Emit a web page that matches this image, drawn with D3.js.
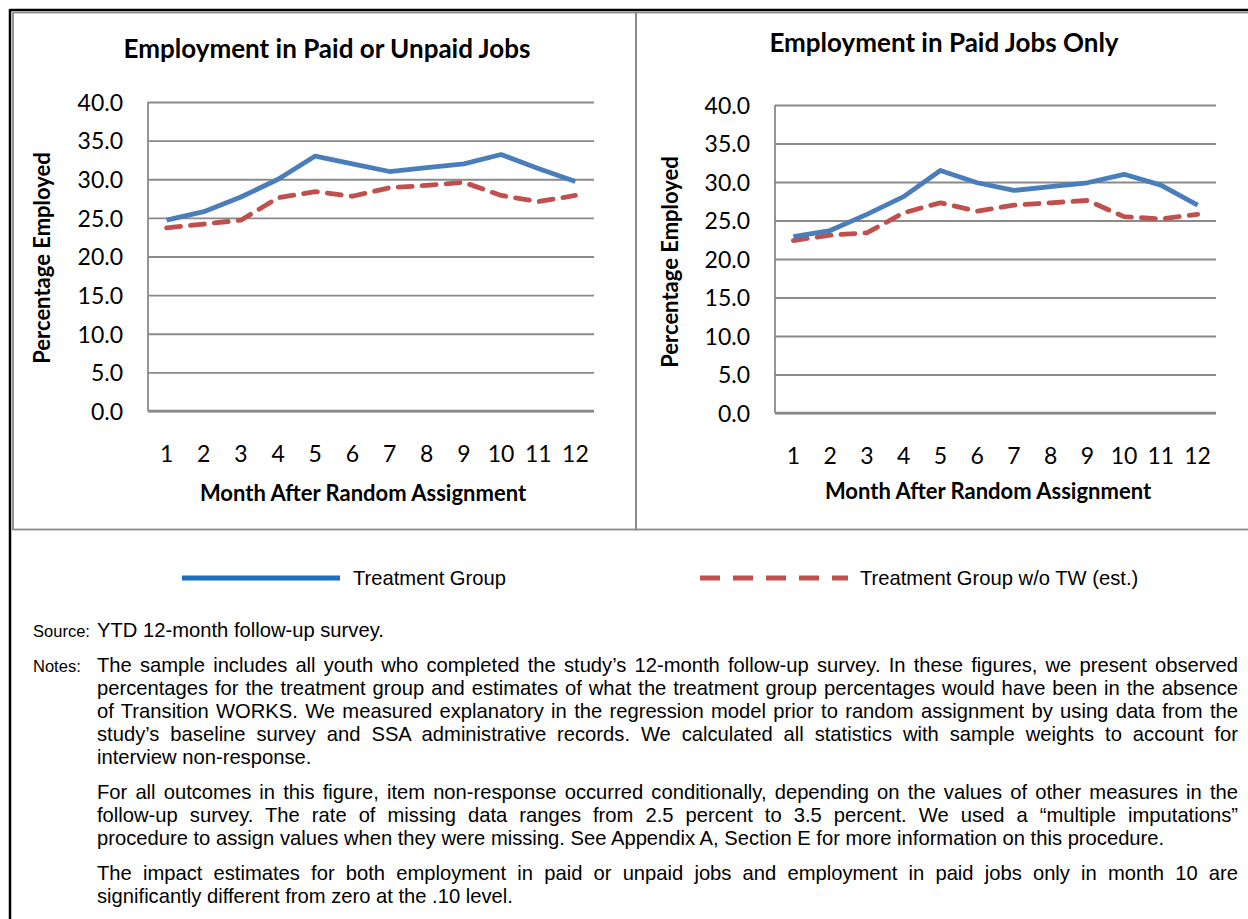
<!DOCTYPE html>
<html><head><meta charset="utf-8">
<script src="https://cdn.jsdelivr.net/npm/d3@7/dist/d3.min.js"></script>
<style>
html,body{margin:0;padding:0;background:#fff;}
svg{display:block;}
</style></head>
<body>
<svg id="c" width="1248" height="919"></svg>
<script>
const months = [1,2,3,4,5,6,7,8,9,10,11,12];
const yTicks = [0,5,10,15,20,25,30,35,40];
const leftTitle = "Employment in Paid or Unpaid Jobs";
const rightTitle = "Employment in Paid Jobs Only";
const yAxisTitle = "Percentage Employed";
const xAxisTitle = "Month After Random Assignment";
const seriesNames = ["Treatment Group", "Treatment Group w/o TW (est.)"];
const paidUnpaidTreatment = [24.7,25.8,27.7,30.0,33.0,32.0,31.0,31.5,32.0,33.2,31.4,29.7];
const paidUnpaidNoTW      = [23.7,24.2,24.7,27.6,28.4,27.8,28.9,29.2,29.6,27.9,27.1,27.9];
const paidTreatment       = [22.9,23.7,25.8,28.1,31.5,29.9,28.9,29.4,29.9,31.0,29.6,27.0];
const paidNoTW            = [22.4,23.1,23.4,26.0,27.3,26.2,27.0,27.3,27.6,25.5,25.2,25.8];
const sourceText = "YTD 12-month follow-up survey.";
const notesParas = [
 ["The sample includes all youth who completed the study\u2019s 12-month follow-up survey. In these figures, we present observed",
  "percentages for the treatment group and estimates of what the treatment group percentages would have been in the absence",
  "of Transition WORKS. We measured explanatory in the regression model prior to random assignment by using data from the",
  "study\u2019s baseline survey and SSA administrative records. We calculated all statistics with sample weights to account for",
  "interview non-response."],
 ["For all outcomes in this figure, item non-response occurred conditionally, depending on the values of other measures in the",
  "follow-up survey. The rate of missing data ranges from 2.5 percent to 3.5 percent. We used a \u201cmultiple imputations\u201d",
  "procedure to assign values when they were missing. See Appendix A, Section E for more information on this procedure."],
 ["The impact estimates for both employment in paid or unpaid jobs and employment in paid jobs only in month 10 are",
  "significantly different from zero at the .10 level."]
];

const BLUE = "#4a7ebb", RED = "#c0504d", GRID = "#8a8a8a";
const chartFont = "Lato, 'Open Sans', sans-serif";
const textFont = "'Liberation Sans',Arial,sans-serif";
const svg = d3.select("#c");

// frames
svg.append("line").attr("x1",10).attr("x2",1248).attr("y1",10).attr("y2",10).attr("stroke","#000").attr("stroke-width",2.5);
svg.append("line").attr("x1",10).attr("x2",10).attr("y1",9).attr("y2",919).attr("stroke","#000").attr("stroke-width",2.5);
svg.append("rect").attr("x",13).attr("y",12.5).attr("width",623).attr("height",517).attr("fill","none").attr("stroke",GRID).attr("stroke-width",1.8);
svg.append("rect").attr("x",636).attr("y",12.5).attr("width",640).attr("height",517).attr("fill","none").attr("stroke",GRID).attr("stroke-width",1.8);

function drawChart(cfg){
  const g = svg.append("g");
  const x = d3.scaleBand().domain(months).range([cfg.x0,cfg.x1]).padding(0);
  const y = d3.scaleLinear().domain([0,40]).range([cfg.yb,cfg.yt]);
  const cx = d => x(d) + x.bandwidth()/2;
  const ya = d3.axisLeft(y).tickValues(yTicks).tickFormat(d3.format(".1f")).tickSize(-(cfg.x1-cfg.x0)).tickPadding(25);
  const yg = g.append("g").attr("transform",`translate(${cfg.x0},0)`).call(ya);
  yg.select(".domain").remove();
  yg.selectAll(".tick line").attr("stroke",GRID).attr("stroke-width",1.8);
  yg.selectAll(".tick text").attr("font-family",chartFont).attr("font-size",23).attr("fill","#000").attr("dy","0.36em");
  g.append("line").attr("x1",cfg.x0).attr("x2",cfg.x0).attr("y1",cfg.yt).attr("y2",cfg.yb).attr("stroke",GRID).attr("stroke-width",1.8);
  g.append("line").attr("x1",cfg.x0).attr("x2",cfg.x1).attr("y1",cfg.yb).attr("y2",cfg.yb).attr("stroke",GRID).attr("stroke-width",2.5);
  const xa = d3.axisBottom(x).tickSize(0).tickPadding(35);
  const xg = g.append("g").attr("transform",`translate(0,${cfg.yb})`).call(xa);
  xg.select(".domain").remove();
  xg.selectAll(".tick text").attr("font-family",chartFont).attr("font-size",23).attr("fill","#000");
  const line = d3.line().x((d,i)=>cx(months[i])).y(d=>y(d));
  g.append("path").datum(cfg.s2).attr("d",line).attr("fill","none").attr("stroke",RED).attr("stroke-width",4.8)
    .attr("stroke-dasharray","14,10").attr("stroke-linecap","round").attr("stroke-linejoin","round");
  g.append("path").datum(cfg.s1).attr("d",line).attr("fill","none").attr("stroke",BLUE).attr("stroke-width",4.8)
    .attr("stroke-linejoin","round");
  g.append("text").attr("x",cfg.tx).attr("y",cfg.ty).attr("text-anchor","middle").attr("font-family",chartFont)
    .attr("font-weight","bold").attr("font-size",26).text(cfg.title);
  g.append("text").attr("x",cfg.xtx).attr("y",cfg.xty).attr("text-anchor","middle").attr("font-family",chartFont)
    .attr("font-weight","bold").attr("font-size",22).text(xAxisTitle);
  g.append("text").attr("transform",`translate(${cfg.ytx},${cfg.yty}) rotate(-90)`).attr("text-anchor","middle")
    .attr("font-family",chartFont).attr("font-weight","bold").attr("font-size",22).text(yAxisTitle);
}
drawChart({x0:148,x1:594,yt:102,yb:411,s1:paidUnpaidTreatment,s2:paidUnpaidNoTW,title:leftTitle,tx:327,ty:58,xtx:363,xty:501,ytx:50,yty:258});
drawChart({x0:775,x1:1216,yt:105,yb:413,s1:paidTreatment,s2:paidNoTW,title:rightTitle,tx:944,ty:52,xtx:988,xty:499,ytx:678,yty:262});

// body text size fitted to reference line width
function measure(s){
  const p = svg.append("text").attr("font-family",textFont).attr("font-size",100).text(s);
  const w = p.node().getComputedTextLength(); p.remove(); return w;
}
const fs = 100*1068/measure(notesParas[1][2]);
const fsLabel = Math.min(fs, 100*57/measure("Source:"));
function txt(x,y,s,size){ return svg.append("text").attr("x",x).attr("y",y).attr("font-family",textFont).attr("font-size",size||fs).text(s); }

// legend
svg.append("line").attr("x1",182).attr("x2",340).attr("y1",578).attr("y2",578).attr("stroke","#1a6fc0").attr("stroke-width",5);
txt(353,585,seriesNames[0]);
svg.append("line").attr("x1",700).attr("x2",848).attr("y1",578).attr("y2",578).attr("stroke",RED).attr("stroke-width",5).attr("stroke-dasharray","20,13");
txt(860,585,seriesNames[1]);

// source & notes
txt(33,637,"Source:",fsLabel);
txt(97,637,sourceText);
txt(33,672,"Notes:",fsLabel);
const paraStart = [672, 799, 880];
const lh = 23, left = 97, right = 1238;
notesParas.forEach((p,pi)=>{
  p.forEach((ln,li)=>{
    const t = txt(left,paraStart[pi]+li*lh,ln);
    if(li < p.length-1){
      const nat = t.node().getComputedTextLength();
      const gaps = ln.split(" ").length-1;
      t.attr("word-spacing",(right-left-nat)/gaps);
    }
  });
});
</script>
</body></html>
